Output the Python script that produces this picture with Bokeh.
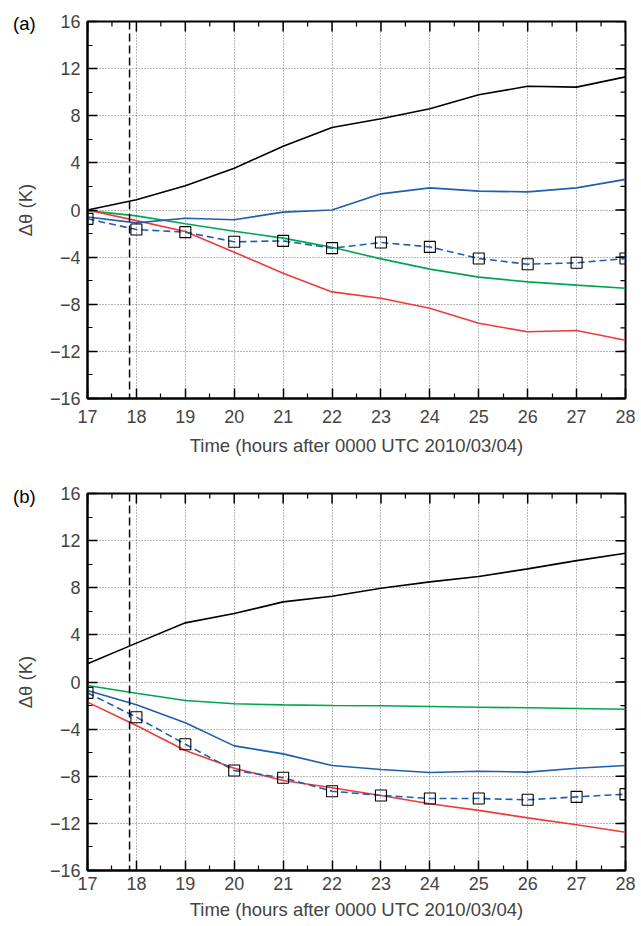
from bokeh.plotting import figure
from bokeh.layouts import column
from bokeh.models import Range1d, FixedTicker, Span, Div
from bokeh.embed import file_html
from bokeh.resources import INLINE

hours = [17, 18, 19, 20, 21, 22, 23, 24, 25, 26, 27, 28]
x_ticks = list(range(17, 29))
x_minor = [h + 0.5 for h in range(17, 28)]
y_ticks = [-16, -12, -8, -4, 0, 4, 8, 12, 16]
y_minor = list(range(-16, 17, 2))
y_labels = {-16: "\u221216", -12: "\u221212", -8: "\u22128", -4: "\u22124", 0: "0",
            4: "4", 8: "8", 12: "12", 16: "16"}
marker_time = 17.86

# Panel (a)
a_black = [0.0, 0.87, 2.05, 3.55, 5.42, 7.0, 7.74, 8.59, 9.78, 10.5, 10.43, 11.3]
a_blue = [-0.6, -1.09, -0.7, -0.83, -0.18, 0.0, 1.37, 1.88, 1.6, 1.54, 1.88, 2.6]
a_blue_dash = [-0.75, -1.66, -1.88, -2.7, -2.62, -3.24, -2.76, -3.13, -4.12, -4.6, -4.48, -4.12]
a_green = [-0.05, -0.5, -1.17, -1.8, -2.39, -3.16, -4.15, -5.02, -5.7, -6.1, -6.38, -6.64]
a_red = [0.0, -0.9, -1.83, -3.58, -5.36, -6.95, -7.49, -8.34, -9.61, -10.34, -10.23, -11.05]

# Panel (b)
b_black = [1.54, 3.3, 5.02, 5.81, 6.8, 7.28, 7.96, 8.5, 8.96, 9.6, 10.3, 10.93]
b_blue = [-0.72, -1.94, -3.46, -5.42, -6.1, -7.09, -7.43, -7.68, -7.57, -7.65, -7.32, -7.09]
b_blue_dash = [-0.92, -2.99, -5.28, -7.51, -8.13, -9.27, -9.63, -9.89, -9.89, -10.0, -9.75, -9.52]
b_green = [-0.3, -0.95, -1.57, -1.85, -1.94, -2.0, -2.02, -2.08, -2.14, -2.19, -2.25, -2.31]
b_red = [-1.71, -3.69, -5.81, -7.32, -8.36, -8.98, -9.63, -10.34, -10.9, -11.53, -12.12, -12.75]

FONT = "Liberation Sans"
TICK_FS = "18px"
LABEL_FS = "18.5px"
BLACK = "#000000"
BLUE = "#1f5fae"
GREEN = "#00a64f"
RED = "#f03a3a"

FRAME_W = 538
FRAME_H = 377
X0, X1 = 17, 28
Y0, Y1 = -16, 16


def style_axis(ax):
    ax.axis_line_width = 2
    ax.axis_line_color = "black"
    ax.major_tick_in = 10
    ax.major_tick_out = 0
    ax.minor_tick_in = 5
    ax.minor_tick_out = 0
    ax.major_tick_line_width = 1.5
    ax.minor_tick_line_width = 1.2
    ax.major_label_text_font = FONT
    ax.major_label_text_font_size = TICK_FS
    ax.axis_label_text_font = FONT
    ax.axis_label_text_font_style = "normal"
    ax.axis_label_text_font_size = LABEL_FS


def make_panel(black, blue, blue_dash, green, red, top_border, tick_standoff, label_standoff):
    p = figure(frame_width=FRAME_W, frame_height=FRAME_H,
               x_range=Range1d(X0, X1), y_range=Range1d(Y0, Y1),
               output_backend="svg", toolbar_location=None,
               min_border_left=87, min_border_right=10, min_border_top=top_border,
               min_border_bottom=20,
               background_fill_color="white", border_fill_color="white")
    p.outline_line_color = "black"
    p.outline_line_width = 2

    p.xaxis[0].ticker = FixedTicker(ticks=x_ticks, minor_ticks=x_minor)
    p.yaxis[0].ticker = FixedTicker(ticks=y_ticks, minor_ticks=y_minor)
    style_axis(p.xaxis[0])
    style_axis(p.yaxis[0])
    p.xaxis[0].axis_label = "Time (hours after 0000 UTC 2010/03/04)"
    p.xaxis[0].major_label_standoff = tick_standoff
    p.xaxis[0].axis_label_standoff = label_standoff
    p.yaxis[0].axis_label = "\u0394\u03b8 (K)"
    p.yaxis[0].major_label_standoff = 7
    p.yaxis[0].axis_label_standoff = 11
    p.yaxis[0].major_label_overrides = y_labels

    for g in (p.xgrid[0], p.ygrid[0]):
        g.grid_line_color = "#707070"
        g.grid_line_dash = "1 2"
        g.grid_line_width = 1
    p.xgrid[0].ticker = FixedTicker(ticks=x_ticks)
    p.ygrid[0].ticker = FixedTicker(ticks=y_ticks)

    # mirrored inward ticks on the top and right edges of the frame
    dx_major = 10 * (X1 - X0) / FRAME_W
    dx_minor = 5 * (X1 - X0) / FRAME_W
    dy_major = 10 * (Y1 - Y0) / FRAME_H
    dy_minor = 5 * (Y1 - Y0) / FRAME_H
    p.segment(x0=x_ticks, x1=x_ticks, y0=[Y1] * len(x_ticks),
              y1=[Y1 - dy_major] * len(x_ticks), line_color="black", line_width=1.5)
    p.segment(x0=x_minor, x1=x_minor, y0=[Y1] * len(x_minor),
              y1=[Y1 - dy_minor] * len(x_minor), line_color="black", line_width=1.2)
    p.segment(x0=[X1] * len(y_ticks), x1=[X1 - dx_major] * len(y_ticks),
              y0=y_ticks, y1=y_ticks, line_color="black", line_width=1.5)
    p.segment(x0=[X1] * len(y_minor), x1=[X1 - dx_minor] * len(y_minor),
              y0=y_minor, y1=y_minor, line_color="black", line_width=1.2)

    p.line(hours, black, line_color=BLACK, line_width=1.6)
    p.line(hours, green, line_color=GREEN, line_width=1.6)
    p.line(hours, red, line_color=RED, line_width=1.6)
    p.line(hours, blue, line_color=BLUE, line_width=1.6)
    p.line(hours, blue_dash, line_color=BLUE, line_width=1.6, line_dash="7 4")
    p.scatter(hours, blue_dash, marker="square", size=11, fill_color=None,
              line_color="black", line_width=1.1)

    p.add_layout(Span(location=marker_time, dimension="height", line_color="black",
                      line_width=1.5, line_dash="8 4"))
    return p


def tag_div(text, top):
    html = (f'<span style="font-family: \'{FONT}\'; font-size: {LABEL_FS}; '
            f'line-height: 22px; color: black;">{text}</span>')
    return Div(text=html, width=30, height=22,
               styles={"position": "absolute", "left": "13px", "top": f"{top}px",
                       "font-family": FONT, "font-size": LABEL_FS,
                       "line-height": "22px", "color": "black", "margin": "0",
                       "padding": "0"})


pa = make_panel(a_black, a_blue, a_blue_dash, a_green, a_red, 21, 11, 9)
pa.min_border_bottom = 82
pb = make_panel(b_black, b_blue, b_blue_dash, b_green, b_red, 13, 6, 6)

layout = column(pa, pb, tag_div("(a)", 13), tag_div("(b)", 486), spacing=0)
open("out.html", "w").write(file_html(layout, INLINE))
